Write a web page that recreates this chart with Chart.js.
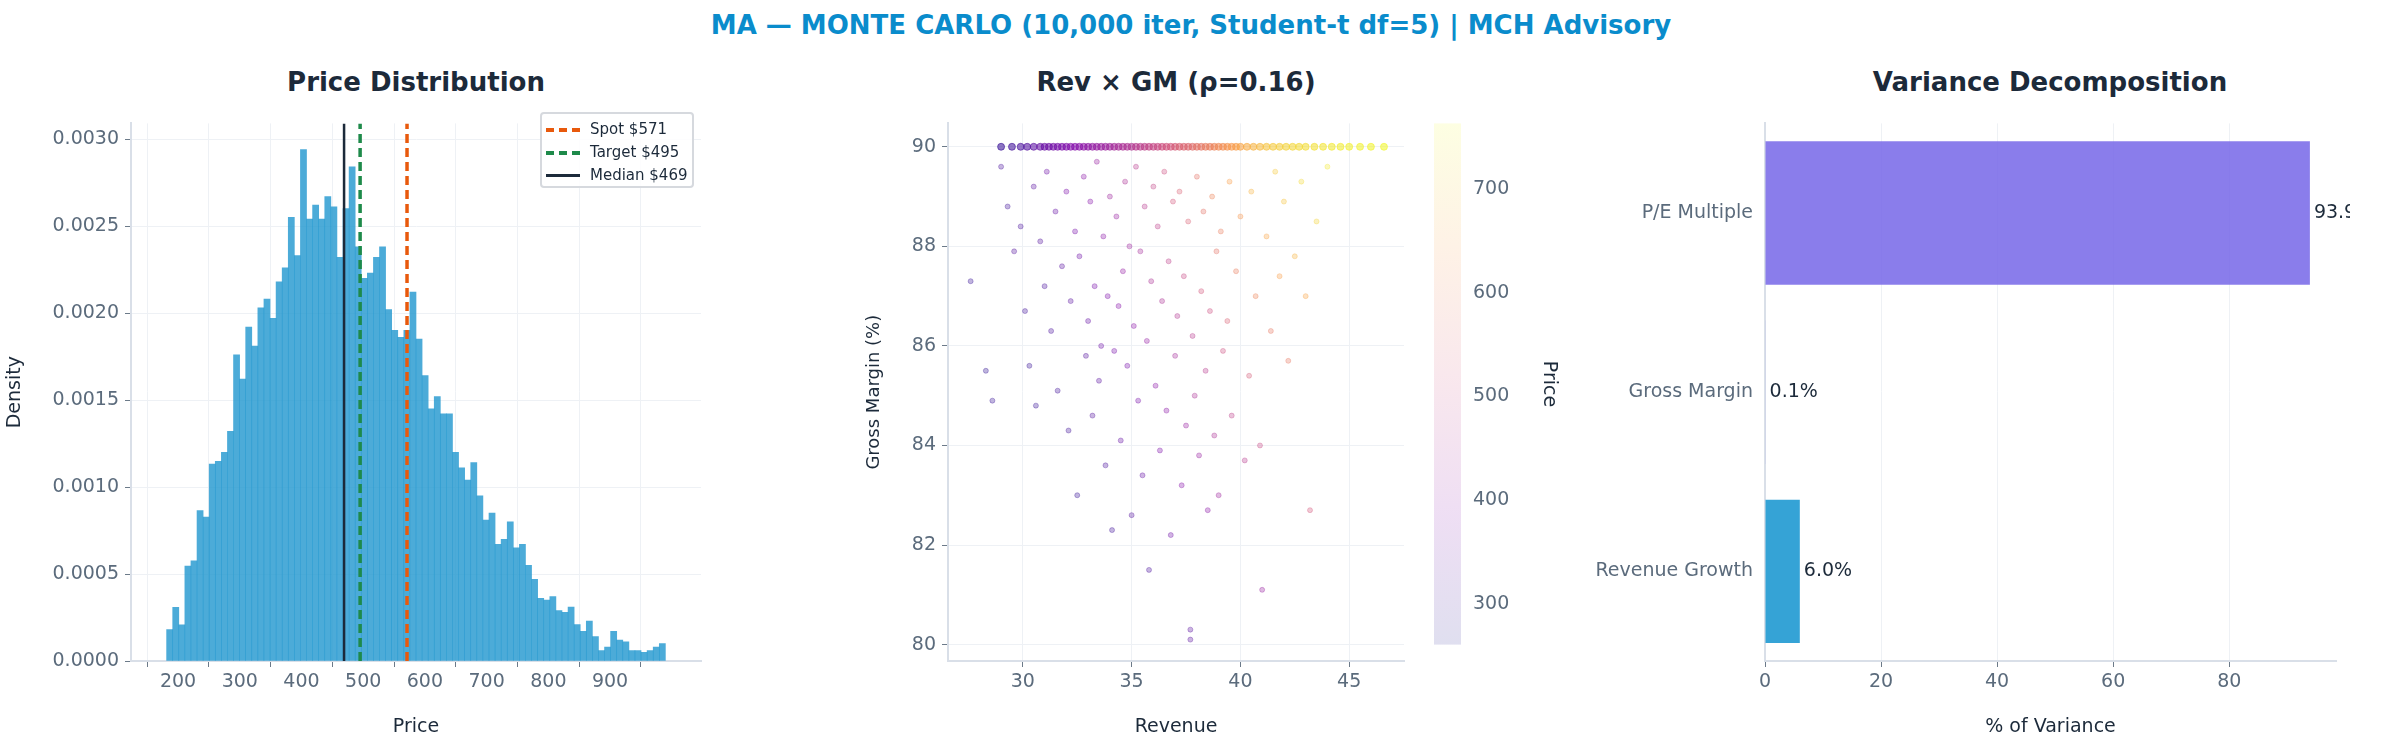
<!DOCTYPE html>
<html><head><meta charset="utf-8">
<script src="https://cdn.jsdelivr.net/npm/chart.js@4.4.1/dist/chart.umd.min.js"></script>
<style>
html,body{margin:0;padding:0;background:#fff;width:2382px;height:742px;overflow:hidden;font-family:"DejaVu Sans",sans-serif;}
.abs{position:absolute;}
.t{position:absolute;font-weight:bold;color:#1c2a3a;font-size:26px;text-align:center;white-space:nowrap;transform:translateX(-50%);}
canvas{position:absolute;}
#legend{position:absolute;left:540px;top:112px;width:150px;height:72px;border:2px solid #d6d9de;border-radius:4px;background:rgba(255,255,255,0.85);font-size:15px;color:#1c2a3a;}
#legend div{height:22px;line-height:22px;position:relative;padding-left:48px;margin-top:1px}
#legend span{position:absolute;left:4px;top:10px;width:34px;height:0;}
</style></head><body>
<div class="t" style="left:1191px;top:10px;color:#0a8ccc;font-size:26px;">MA — MONTE CARLO (10,000 iter, Student-t df=5) | MCH Advisory</div>
<div class="t" style="left:416px;top:67px;">Price Distribution</div>
<div class="t" style="left:1176px;top:67px;">Rev × GM (ρ=0.16)</div>
<div class="t" style="left:2050px;top:67px;">Variance Decomposition</div>
<canvas id="c1"></canvas>
<canvas id="c2"></canvas>
<canvas id="c3"></canvas>
<canvas id="c4"></canvas>
<div id="legend">
<div style="margin-top:4px"><span style="border-top:4px dashed #e8590c"></span>Spot $571</div>
<div><span style="border-top:4px dashed #1e8a4a"></span>Target $495</div>
<div><span style="border-top:3px solid #1c2a3a"></span>Median $469</div>
</div>
<script>
// ---------- data ----------
const histStart = 181.5, histEnd = 989.6;
const histDensity = [0.000181,0.000309,0.000208,0.000545,0.000576,0.000864,0.000827,0.001132,0.001148,0.0012,0.00132,0.00176,0.00162,0.00192,0.00181,0.00203,0.00208,0.00197,0.00218,0.00226,0.00255,0.00233,0.00294,0.00254,0.00262,0.00254,0.00267,0.00261,0.00232,
0.0026,0.00284,0.00238,0.0022,0.00223,0.00232,0.00238,0.00202,0.0019,0.00186,0.0019,0.00212,0.00185,0.00164,0.00145,0.00152,0.00142,0.00142,0.0012,0.00111,0.00104,0.00114,0.00095,0.00081,0.00085,0.00067,0.0007,
0.0008,0.00065,0.00067,0.00055,0.00047,0.00036,0.00035,0.00037,0.00029,0.00028,0.00031,0.00021,0.00017,0.00023,0.00014,0.00006,0.00008,0.00017,0.00012,0.00011,0.00006,0.00006,0.00005,0.00006,0.00008,0.0001];
const refSpot = 571, refTarget = 495, refMedian = 469;
const histXTicks = [200,300,400,500,600,700,800,900];
const histYTicks = [0,0.0005,0.001,0.0015,0.002,0.0025,0.003];

const scRev = [27.6,28.3,28.6,29.0,29.3,29.6,29.9,30.1,30.3,30.5,30.6,30.8,31.0,31.1,31.3,31.5,31.6,31.8,32.0,32.1,32.2,32.4,32.5,32.6,32.8,32.9,33.0,33.1,33.2,33.3,33.4,33.5,33.6,33.7,33.8,33.9,34.0,34.1,34.2,34.3,34.4,34.5,34.6,34.7,34.8,34.9,35.0,35.1,35.2,35.3,35.4,35.5,35.6,35.7,35.8,35.9,36.0,36.1,36.2,36.3,36.4,36.5,36.6,36.7,36.8,36.9,37.0,37.1,37.2,37.3,37.4,37.5,37.6,37.7,37.7,37.8,37.9,38.0,38.1,38.2,38.3,38.4,38.5,38.6,38.7,38.8,38.9,39.0,39.1,39.2,39.4,39.5,39.6,39.8,40.0,40.2,40.4,40.5,40.7,40.9,41.0,41.2,41.4,41.6,41.8,42.0,42.2,42.5,42.8,43.0,43.2,43.5,44.0];
const scGM = [87.3,85.5,84.9,89.6,88.8,87.9,88.4,86.7,85.6,89.2,84.8,88.1,87.2,89.5,86.3,88.7,85.1,87.6,89.1,84.3,86.9,88.3,83.0,87.8,89.4,85.8,86.5,88.9,84.6,87.2,89.7,85.3,86.0,88.2,83.6,87.0,89.0,82.3,85.9,88.6,86.8,84.1,87.5,89.3,85.6,88.0,82.6,86.4,89.6,84.9,87.9,83.4,88.8,86.1,81.5,87.3,89.2,85.2,88.4,83.9,86.9,89.5,84.7,87.7,82.2,88.9,85.8,86.6,89.1,83.2,87.4,84.4,88.5,80.3,80.1,86.2,85.0,89.4,83.8,87.1,88.7,85.5,82.7,86.7,89.0,84.2,87.9,83.0,88.3,85.9,86.5,89.3,84.6,87.5,88.6,83.7,85.4,89.1,87.0,84.0,81.1,88.2,86.3,89.5,87.4,88.9,85.7,87.8,89.3,87.0,82.7,88.5,89.6];
const scPrice = [300,290,300,320,310,330,320,310,300,340,300,330,320,360,320,350,310,340,380,310,340,370,300,360,400,330,350,390,330,370,420,340,360,400,320,380,430,310,370,420,390,350,410,450,370,430,330,400,470,370,440,350,470,410,320,450,490,400,480,380,450,510,400,480,360,520,440,460,540,390,500,420,540,340,340,470,450,570,420,520,570,470,400,510,600,450,570,430,590,510,540,640,480,590,630,470,530,670,600,500,420,650,580,700,640,690,580,670,720,650,520,710,740];
const capRev = [29.0,29.5,29.9,30.2,30.5,30.8,31.0,31.2,31.4,31.6,31.8,32.0,32.2,32.4,32.6,32.8,33.0,33.2,33.4,33.6,33.8,34.0,34.2,34.4,34.6,34.8,35.0,35.2,35.4,35.6,35.8,36.0,36.2,36.4,36.6,36.8,37.0,37.2,37.4,37.6,37.8,38.0,38.2,38.4,38.6,38.8,39.0,39.2,39.4,39.6,39.8,40.0,40.3,40.6,40.9,41.2,41.5,41.8,42.1,42.4,42.7,43.0,43.4,43.8,44.2,44.6,45.0,45.5,46.0,46.6];
const capPrice = [300,310,320,330,340,350,355,360,365,370,375,380,385,390,395,400,405,410,415,420,425,430,440,445,450,455,460,470,475,480,490,495,500,510,515,520,530,540,545,550,560,570,575,585,590,600,610,615,625,635,640,650,660,670,680,690,700,705,710,715,720,725,730,735,740,745,750,752,755,758];
const capGM = 90;
const scXTicks = [30,35,40,45], scYTicks = [80,82,84,86,88,90];
const priceMin = 261, priceMax = 763, cbTicks = [300,400,500,600,700];

const varLabels = ['P/E Multiple','Gross Margin','Revenue Growth'];
const varValues = [93.9,0.1,6.0];
const varXTicks = [0,20,40,60,80];

// ---------- helpers ----------
const FONT = '"DejaVu Sans", sans-serif';
Chart.defaults.font.family = FONT;
Chart.defaults.animation = false;
Chart.defaults.responsive = false;
const TICK = '#5b6b7c', GRID = '#eef1f5', BORDER = '#d9dfe8';
function place(id, l, t, w, h){const c=document.getElementById(id);c.style.left=l+'px';c.style.top=t+'px';c.width=w;c.height=h;c.style.width=w+'px';c.style.height=h+'px';return c;}
function fixTicks(list){return s=>{s.ticks=list.map(v=>({value:v}));};}
const plasma = [[13,8,135],[126,3,168],[204,71,120],[248,149,64],[240,249,33]];
function cmap(t,a){t=Math.max(0,Math.min(1,t));const p=t*4,i=Math.min(3,Math.floor(p)),f=p-i;const c=plasma[i].map((v,k)=>Math.round(v+(plasma[i+1][k]-v)*f));return `rgba(${c[0]},${c[1]},${c[2]},${a})`;}
function axisTitle(text){return {display:true,text,color:'#1c2a3a',font:{size:19}};}

// ---------- panel 1 ----------
const bw = (histEnd-histStart)/histDensity.length;
const histData = histDensity.map((d,i)=>({x:histStart+bw*(i+0.5),y:d}));
const yTop = 0.00309;
function vline(x,color,dash,w,label){return {type:'line',label,data:[{x,y:0},{x,y:yTop}],borderColor:color,borderWidth:w,borderDash:dash,pointRadius:0,order:0};}
new Chart(place('c1',0,106,705,636),{
  type:'bar',
  data:{datasets:[
    {type:'bar',data:histData,backgroundColor:'rgba(36,152,207,0.82)',borderWidth:0,barPercentage:1,categoryPercentage:1,grouped:false,order:1},
    vline(refSpot,'#e8590c',[9,5],3.5,'Spot'),
    vline(refTarget,'#1e8a4a',[9,5],3.5,'Target'),
    vline(refMedian,'#1c2a3a',[],2.5,'Median')
  ]},
  options:{layout:{padding:{right:4,top:0}},plugins:{legend:{display:false},tooltip:{enabled:false}},
    scales:{
      x:{type:'linear',min:histStart,max:histEnd,afterBuildTicks:fixTicks(histXTicks),afterFit:s=>{s.height=81;},
         grid:{color:GRID,tickColor:'#6c7a89',tickLength:6},border:{color:BORDER,width:2},
         ticks:{color:TICK,font:{size:19},maxRotation:0,padding:4},title:{...axisTitle('Price'),padding:{top:2}}},
      y:{type:'linear',min:0,max:yTop,afterBuildTicks:fixTicks(histYTicks),afterFit:s=>{s.width=131;},
         grid:{color:GRID,tickColor:'#6c7a89',tickLength:6},border:{color:BORDER,width:2},
         ticks:{color:TICK,font:{size:19},callback:v=>v.toFixed(4),padding:6},title:axisTitle('Density')}
    }}
});

// ---------- panel 2 ----------
const pts=[],cols=[];
scRev.forEach((r,i)=>{pts.push({x:r,y:scGM[i]});cols.push(cmap((scPrice[i]-priceMin)/(priceMax-priceMin),0.3));});
const capPts=capRev.map(r=>({x:r,y:capGM}));
const capCols=capPrice.map(p=>cmap((p-priceMin)/(priceMax-priceMin),0.55));
new Chart(place('c2',860,106,549,636),{
  type:'scatter',
  data:{datasets:[
    {data:pts,backgroundColor:cols,borderColor:cols,borderWidth:1,pointRadius:2.5},
    {data:capPts,backgroundColor:capCols,borderColor:capCols,borderWidth:1,pointRadius:3.5}
  ]},
  options:{layout:{padding:{right:4}},plugins:{legend:{display:false},tooltip:{enabled:false}},
    scales:{
      x:{type:'linear',min:26.56,max:47.52,afterBuildTicks:fixTicks(scXTicks),afterFit:s=>{s.height=81;},
         grid:{color:GRID,tickColor:'#6c7a89',tickLength:6},border:{color:BORDER,width:2},
         ticks:{color:TICK,font:{size:19},padding:4},title:{...axisTitle('Revenue'),padding:{top:2}}},
      y:{type:'linear',min:79.67,max:90.47,afterBuildTicks:fixTicks(scYTicks),afterFit:s=>{s.width=88;},
         grid:{color:GRID,tickColor:'#6c7a89',tickLength:6},border:{color:BORDER,width:2},
         ticks:{color:TICK,font:{size:19},padding:6},title:{...axisTitle('Gross Margin (%)'),font:{size:18}}}
    }}
});

// ---------- colorbar ----------
const cbPlugin={id:'cb',beforeDatasetsDraw(ch){const a=ch.chartArea,ctx=ch.ctx;const g=ctx.createLinearGradient(0,a.bottom,0,a.top);for(let k=0;k<=20;k++)g.addColorStop(k/20,cmap(k/20,0.13));ctx.fillStyle=g;ctx.fillRect(a.left,a.top,a.right-a.left,a.bottom-a.top);}};
new Chart(place('c3',1434,106,130,556),{
  type:'scatter',data:{datasets:[{data:[]}]},plugins:[cbPlugin],
  options:{layout:{padding:0},plugins:{legend:{display:false},tooltip:{enabled:false}},
    scales:{
      x:{display:false,min:0,max:1},
      y:{position:'right',min:priceMin,max:priceMax,afterBuildTicks:fixTicks(cbTicks),afterFit:s=>{s.width=103;},
        grid:{display:false,drawTicks:true,tickColor:'#6c7a89',tickLength:6},border:{display:false},
        ticks:{color:TICK,font:{size:19},padding:6},title:{...axisTitle('Price'),font:{size:19}}}
    }}
});

// ---------- panel 3 ----------
const valPlugin={id:'vals',afterDatasetsDraw(ch){const ctx=ch.ctx,m=ch.getDatasetMeta(0);ctx.save();ctx.font='19px '+FONT;ctx.fillStyle='#1c2a3a';ctx.textBaseline='middle';m.data.forEach((b,i)=>{ctx.fillText(varValues[i].toFixed(1)+'%',b.x+4,b.y);});ctx.restore();}};
new Chart(place('c4',1560,106,790,636),{
  type:'bar',
  data:{labels:varLabels,datasets:[{data:varValues,backgroundColor:['rgba(118,102,232,0.85)','rgba(118,102,232,0.85)','rgba(36,155,210,0.92)'],borderWidth:0,barPercentage:0.8,categoryPercentage:1}]},
  plugins:[valPlugin],
  options:{indexAxis:'y',layout:{padding:{right:14}},plugins:{legend:{display:false},tooltip:{enabled:false}},
    scales:{
      x:{type:'linear',min:0,max:98.4,afterBuildTicks:fixTicks(varXTicks),afterFit:s=>{s.height=81;},
         grid:{color:GRID,tickColor:'#6c7a89',tickLength:6},border:{color:BORDER,width:2},
         ticks:{color:TICK,font:{size:19},padding:4},title:{...axisTitle('% of Variance'),padding:{top:2}}},
      y:{afterFit:s=>{s.width=205;},grid:{display:false,drawTicks:true,tickColor:'#6c7a89',tickLength:6},border:{color:BORDER,width:2},
         ticks:{color:TICK,font:{size:19},padding:6}}
    }}
});
</script></body></html>
